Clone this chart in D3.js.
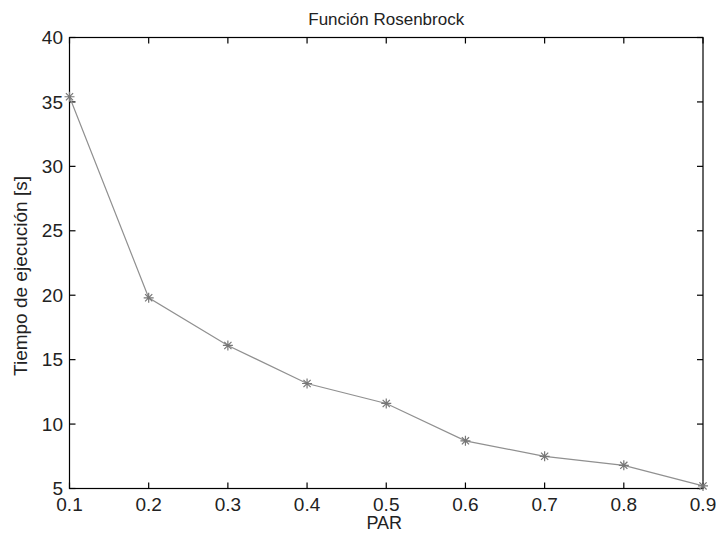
<!DOCTYPE html>
<html>
<head>
<meta charset="utf-8">
<script src="https://cdn.jsdelivr.net/npm/d3@7"></script>
<style>
html,body{margin:0;padding:0;background:#fff;}
text{font-family:"Liberation Sans",Arial,sans-serif;fill:#222;}
</style>
</head>
<body>
<svg id="chart" width="716" height="536"></svg>
<script>
const parValues = [0.1, 0.2, 0.3, 0.4, 0.5, 0.6, 0.7, 0.8, 0.9];
const tiempo = [35.4, 19.8, 16.1, 13.15, 11.6, 8.7, 7.5, 6.8, 5.2];
const xTicks = [0.1, 0.2, 0.3, 0.4, 0.5, 0.6, 0.7, 0.8, 0.9];
const yTicks = [5, 10, 15, 20, 25, 30, 35, 40];
const titleText = "Función Rosenbrock";
const xLabel = "PAR";
const yLabel = "Tiempo de ejecución [s]";

const svg = d3.select("#chart");
const m = {left: 69.5, right: 703, top: 37.5, bottom: 488.5};
const x = d3.scaleLinear().domain([0.1, 0.9]).range([m.left, m.right]);
const y = d3.scaleLinear().domain([5, 40]).range([m.bottom, m.top]);
const tickLen = 6;

const ax = svg.append("g").attr("stroke", "#000").attr("stroke-width", 1.2).attr("fill", "none");
ax.append("rect").attr("x", m.left).attr("y", m.top)
  .attr("width", m.right - m.left).attr("height", m.bottom - m.top);

xTicks.forEach(t => {
  ax.append("line").attr("x1", x(t)).attr("x2", x(t)).attr("y1", m.bottom).attr("y2", m.bottom - tickLen);
  ax.append("line").attr("x1", x(t)).attr("x2", x(t)).attr("y1", m.top).attr("y2", m.top + tickLen);
});
yTicks.forEach(t => {
  ax.append("line").attr("y1", y(t)).attr("y2", y(t)).attr("x1", m.left).attr("x2", m.left + tickLen);
  ax.append("line").attr("y1", y(t)).attr("y2", y(t)).attr("x1", m.right).attr("x2", m.right - tickLen);
});

svg.append("g").selectAll("text").data(xTicks).join("text")
  .attr("x", d => x(d)).attr("y", 510.5)
  .attr("text-anchor", "middle").attr("font-size", 19)
  .text(d => d3.format(".1f")(d));
svg.append("g").selectAll("text").data(yTicks).join("text")
  .attr("x", 63).attr("y", d => y(d)).attr("dy", "0.35em")
  .attr("text-anchor", "end").attr("font-size", 19)
  .text(d => d);

const line = d3.line().x((d, i) => x(parValues[i])).y(d => y(d));
svg.append("path").datum(tiempo).attr("d", line)
  .attr("fill", "none").attr("stroke", "#909090").attr("stroke-width", 1.2);

const r = 5;
const star = `M${-r},0L${r},0M0,${-r}L0,${r}M${-r*0.72},${-r*0.72}L${r*0.72},${r*0.72}M${-r*0.72},${r*0.72}L${r*0.72},${-r*0.72}`;
svg.append("g").selectAll("path").data(tiempo).join("path")
  .attr("transform", (d, i) => `translate(${x(parValues[i])},${y(d)})`)
  .attr("d", star).attr("fill", "none").attr("stroke", "#777").attr("stroke-width", 1.2);

svg.append("text").attr("x", (m.left + m.right) / 2).attr("y", 24.5)
  .attr("text-anchor", "middle").attr("font-size", 17).text(titleText);
svg.append("text").attr("x", (m.left + m.right) / 2 - 2).attr("y", 529)
  .attr("text-anchor", "middle").attr("font-size", 18).text(xLabel);
svg.append("text").attr("transform", "translate(27,276) rotate(-90)")
  .attr("text-anchor", "middle").attr("font-size", 19).text(yLabel);
</script>
</body>
</html>
